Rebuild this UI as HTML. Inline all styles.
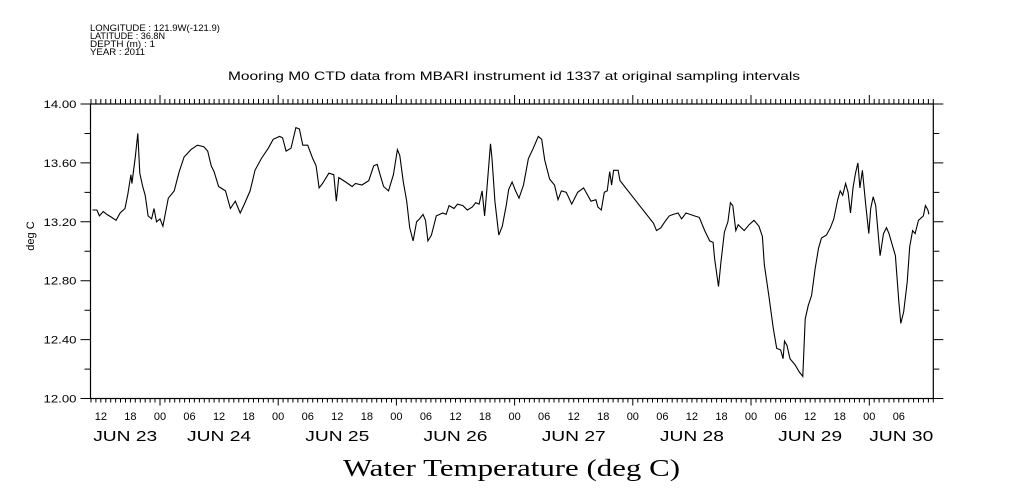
<!DOCTYPE html>
<html><head><meta charset="utf-8"><style>
html,body{margin:0;padding:0;background:#fff;}
svg{display:block;font-family:"Liberation Sans",sans-serif;}
</style></head><body>
<svg id="chart" width="1009" height="504" viewBox="0 0 1009 504" xmlns="http://www.w3.org/2000/svg">
<g font-size="9" fill="#000">
<text x="90" y="31" textLength="130" lengthAdjust="spacingAndGlyphs">LONGITUDE : 121.9W(-121.9)</text>
<text x="90" y="39" textLength="75" lengthAdjust="spacingAndGlyphs">LATITUDE : 36.8N</text>
<text x="90" y="47" textLength="65" lengthAdjust="spacingAndGlyphs">DEPTH (m) : 1</text>
<text x="90" y="55" textLength="55" lengthAdjust="spacingAndGlyphs">YEAR : 2011</text>
</g>
<text x="228" y="80" font-size="12" textLength="572" lengthAdjust="spacingAndGlyphs">Mooring M0 CTD data from MBARI instrument id 1337 at original sampling intervals</text>
<text x="34" y="236" font-size="11" text-anchor="middle" transform="rotate(-90 34 236)">deg C</text>
<text x="343" y="476" font-size="24" textLength="337" lengthAdjust="spacingAndGlyphs" font-family="'Liberation Serif',serif">Water Temperature (deg C)</text>
<g id="axes"></g>
<g id="series"></g>
</svg>
<script>
// hours since 2011-06-23 00:00
const hours = [10.3,11.2,11.7,12.5,13.2,14.2,15.1,15.9,16.9,17.5,18.1,18.3,19.0,19.5,19.9,20.5,21.0,21.6,22.3,22.8,23.3,24,24.6,25.7,26.9,27.9,28.9,30.3,31.6,32.9,33.7,34.4,35,35.9,37.3,38.3,39.3,40.3,41,42.3,43.3,44.6,46,47,48.3,48.9,49.6,50.6,51.6,52.3,53,54,55,55.7,56.3,57,58.3,59.3,59.8,60.3,61.7,63,63.7,65,66.4,67.4,68.1,68.7,69.4,70.4,71.4,72.2,72.7,73.4,74.1,74.7,75.4,76.1,76.7,77.4,77.9,78.4,79.1,80.1,81.4,82.1,82.7,83.7,84.4,85.5,86.4,87.4,88.1,88.8,89.4,89.9,90.3,91.1,91.4,92.0,92.8,93.5,94.3,94.8,95.5,96.2,96.9,97.8,98.8,99.8,100.8,101.5,102.1,103.1,104.1,104.8,105.5,106.5,107.6,108.8,110,111.5,112.5,112.9,113.6,114.2,114.8,115.3,115.7,116.1,117,117.4,124.2,124.8,125.7,126.5,127.4,128.2,129.2,129.9,130.8,132.5,133.5,134.6,135.6,136.3,136.6,137.4,137.9,138.6,139.3,139.8,140.3,140.9,141.4,142.6,143.6,144.6,145.6,146.3,146.7,147.6,148.5,149.2,150,150.5,150.8,151.3,151.9,152.9,153.8,154.5,155,155.6,156.3,157,157.7,158.3,159.3,160.1,160.8,161.6,162.1,162.6,163.2,163.7,164.2,164.7,165.2,165.7,166.1,166.6,167.3,167.9,168.3,168.8,169.3,170.2,170.9,171.5,172,173.3,174,174.4,175.0,175.7,176.2,176.8,177.3,178.0,179.0,179.4,179.9,180.1];
const temps = [13.28,13.28,13.24,13.27,13.25,13.23,13.21,13.26,13.29,13.39,13.52,13.46,13.64,13.80,13.53,13.44,13.38,13.24,13.22,13.29,13.20,13.22,13.17,13.36,13.41,13.54,13.64,13.69,13.72,13.71,13.68,13.58,13.54,13.44,13.41,13.29,13.34,13.26,13.31,13.41,13.55,13.63,13.70,13.76,13.78,13.77,13.68,13.70,13.84,13.83,13.72,13.72,13.63,13.58,13.43,13.46,13.53,13.52,13.34,13.50,13.47,13.44,13.46,13.45,13.48,13.58,13.59,13.52,13.44,13.41,13.52,13.69,13.65,13.47,13.34,13.16,13.07,13.20,13.22,13.25,13.21,13.07,13.11,13.24,13.26,13.25,13.31,13.29,13.32,13.31,13.28,13.30,13.33,13.32,13.41,13.24,13.39,13.73,13.63,13.34,13.11,13.17,13.31,13.42,13.47,13.41,13.36,13.45,13.63,13.70,13.78,13.76,13.62,13.49,13.45,13.35,13.41,13.40,13.32,13.40,13.43,13.34,13.35,13.30,13.28,13.40,13.41,13.54,13.45,13.55,13.55,13.48,13.19,13.14,13.16,13.20,13.24,13.25,13.26,13.22,13.26,13.24,13.23,13.14,13.07,13.06,12.95,12.76,12.93,13.13,13.20,13.33,13.31,13.14,13.18,13.14,13.18,13.21,13.17,13.10,12.91,12.70,12.48,12.34,12.33,12.27,12.39,12.36,12.27,12.23,12.18,12.15,12.54,12.63,12.70,12.88,13.02,13.09,13.11,13.16,13.22,13.35,13.41,13.38,13.46,13.40,13.26,13.43,13.53,13.60,13.43,13.55,13.31,13.12,13.29,13.37,13.31,12.97,13.12,13.16,13.12,12.97,12.66,12.51,12.59,12.79,13.03,13.14,13.12,13.21,13.24,13.31,13.28,13.25];
const yTicks = [12.0,12.4,12.8,13.2,13.6,14.0];
const yTickLabels = ["12.00","12.40","12.80","13.20","13.60","14.00"];
const hourLabels = ["12","18","00","06","12","18","00","06","12","18","00","06","12","18","00","06","12","18","00","06","12","18","00","06","12","18","00","06"];
const dayLabels = ["JUN 23","JUN 24","JUN 25","JUN 26","JUN 27","JUN 28","JUN 29","JUN 30"];

const L=90.5,R=933.3,T=104,B=398.5;
const H0=9.9,H1=181.0;
const yMin=12,yMax=14;
const xs=h=>L+(h-H0)/(H1-H0)*(R-L);
const ys=v=>B-(v-yMin)/(yMax-yMin)*(B-T);
const NS='http://www.w3.org/2000/svg';
const axes=document.getElementById('axes');
function mk(tag,attrs,parent){const e=document.createElementNS(NS,tag);for(const k in attrs)e.setAttribute(k,attrs[k]);parent.appendChild(e);return e;}

const frame=mk('rect',{x:L,y:T,width:R-L,height:B-T,fill:'none',stroke:'#000','stroke-width':1.2},axes);



let tp='';
for(let h=Math.ceil(H0);h<=H1;h++){
  const x=xs(h).toFixed(1);const big=(h%24===0);
  tp+=`M${x} ${T}V${T-(big?9:5)}M${x} ${B}V${B+(big?7:4)}`;
}
for(let v=12;v<=14.001;v+=0.2){
  const y=ys(v).toFixed(1);const major=Math.abs((v-12)/0.4-Math.round((v-12)/0.4))<1e-6;
  tp+=`M${L} ${y}H${L-(major?10:6)}M${R} ${y}H${R+(major?10:6)}`;
}
const ticks=mk('path',{d:tp,stroke:'#000','stroke-width':1,fill:'none'},axes);



yTicks.forEach((v,i)=>{
  const t=mk('text',{x:L-14,y:ys(v)+4,'font-size':11,'text-anchor':'end',textLength:33,lengthAdjust:'spacingAndGlyphs'},axes);
  t.textContent=yTickLabels[i];
  
  
});
hourLabels.forEach((s,i)=>{
  const h=12+6*i;
  const t=mk('text',{x:xs(h),y:420,'font-size':11,'text-anchor':'middle'},axes);
  t.textContent=s;
  
  
});
dayLabels.forEach((s,i)=>{
  const a=Math.max(H0,24*i),b=Math.min(H1,24*(i+1));
  const t=mk('text',{x:(xs(a)+xs(b))/2-32,y:441,'font-size':15,textLength:64,lengthAdjust:'spacingAndGlyphs'},axes);
  t.textContent=s;
  
  
});

const d=hours.map((h,i)=>(i?'L':'M')+xs(h).toFixed(1)+' '+ys(temps[i]).toFixed(1)).join('');
const line=mk('path',{d:d,stroke:'#000','stroke-width':1.1,fill:'none'},document.getElementById('series'));


</script>
</body></html>
